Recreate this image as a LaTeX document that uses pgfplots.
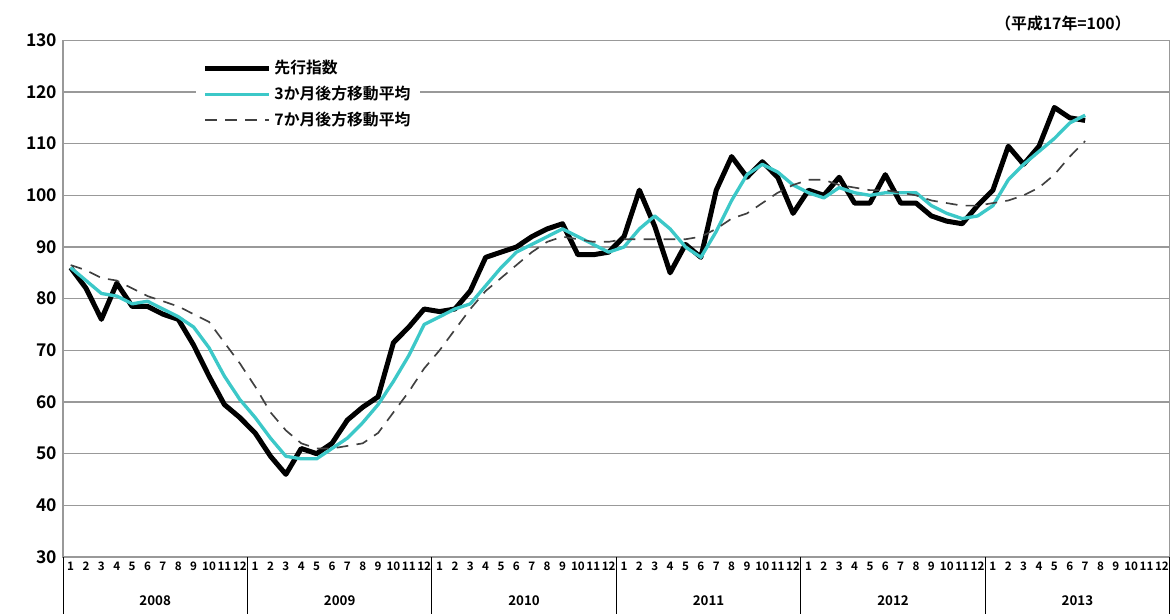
\documentclass[border=0pt]{standalone}
\usepackage{pgfplots}
\pgfplotsset{compat=1.18}
\usepackage{fontspec}
\setmainfont{Noto Sans CJK JP}[BoldFont={* Bold}]
\definecolor{cy}{RGB}{60,200,200}
\begin{document}
\begin{tikzpicture}[x=1pt,y=1pt]
\path[use as bounding box] (-37.8,-34.2) rectangle (667.8,334.2);
\begin{axis}[at={(0,0)},anchor=south west,scale only axis,width=664pt,height=310pt,
 xmin=0,xmax=72,ymin=30,ymax=130,ytick={30,40,...,130},
 /pgf/number format/assume math mode=true,
 ymajorgrids,grid style={gray!80,line width=0.8pt},axis line style={gray!80,line width=0.8pt},
 major tick length=0pt,
 xtick={0.5,1.5,...,71.5},
 xticklabel={\pgfmathtruncatemacro{\m}{mod(round(\tick-0.5),12)+1}\m},
 xticklabel style={font=\fontsize{7}{7}\selectfont\bfseries,inner sep=1pt,yshift=-2pt},
 yticklabel style={font=\fontsize{10.5}{11}\selectfont\bfseries},
 clip=false,
 legend style={at={(0.12,0.975)},anchor=north west,draw=none,fill=white,font=\fontsize{9.5}{11}\selectfont\bfseries,row sep=2pt,inner xsep=4pt},
 legend cell align=left,
 legend image code/.code={\draw[#1] (0pt,0pt) -- (38pt,0pt);},
]
\addplot[black,line width=3pt,line join=round] coordinates {
(0.5,86)(1.5,82)(2.5,76)(3.5,83)(4.5,78.5)(5.5,78.5)(6.5,77)(7.5,76)(8.5,71)(9.5,65)(10.5,59.5)(11.5,57)
(12.5,54)(13.5,49.5)(14.5,46)(15.5,51)(16.5,50)(17.5,52)(18.5,56.5)(19.5,59)(20.5,61)(21.5,71.5)(22.5,74.5)(23.5,78)
(24.5,77.5)(25.5,78)(26.5,81.5)(27.5,88)(28.5,89)(29.5,90)(30.5,92)(31.5,93.5)(32.5,94.5)(33.5,88.5)(34.5,88.5)(35.5,89)
(36.5,92)(37.5,101)(38.5,94)(39.5,85)(40.5,90.5)(41.5,88)(42.5,101)(43.5,107.5)(44.5,103.5)(45.5,106.5)(46.5,103.5)(47.5,96.5)
(48.5,101)(49.5,100)(50.5,103.5)(51.5,98.5)(52.5,98.5)(53.5,104)(54.5,98.5)(55.5,98.5)(56.5,96)(57.5,95)(58.5,94.5)(59.5,98)
(60.5,101)(61.5,109.5)(62.5,106)(63.5,109.5)(64.5,117)(65.5,115)(66.5,114.5)};
\addlegendentry{先行指数}
\addplot[cy,line width=2pt,line join=round] coordinates {
(0.5,86)(1.5,83.5)(2.5,81)(3.5,80.5)(4.5,79)(5.5,79.5)(6.5,78)(7.5,76.5)(8.5,74.5)(9.5,70.5)(10.5,65)(11.5,60.5)
(12.5,57)(13.5,53)(14.5,49.5)(15.5,49)(16.5,49)(17.5,51)(18.5,53)(19.5,56)(20.5,59.5)(21.5,64)(22.5,69)(23.5,75)
(24.5,76.5)(25.5,78)(26.5,79)(27.5,82.5)(28.5,86)(29.5,89)(30.5,90.5)(31.5,92)(32.5,93.5)(33.5,92)(34.5,90.5)(35.5,89)
(36.5,90)(37.5,93.5)(38.5,96)(39.5,93.5)(40.5,90)(41.5,88)(42.5,93)(43.5,99)(44.5,104)(45.5,106)(46.5,104.5)(47.5,102)
(48.5,100.5)(49.5,99.5)(50.5,101.5)(51.5,100.5)(52.5,100)(53.5,100.5)(54.5,100.5)(55.5,100.5)(56.5,98)(57.5,96.5)(58.5,95.5)(59.5,96)
(60.5,98)(61.5,103)(62.5,106)(63.5,108.5)(64.5,111)(65.5,114)(66.5,115.5)};
\addlegendentry{3か月後方移動平均}
\addplot[black!75,line width=1pt,dash pattern=on 7pt off 5pt] coordinates {
(0.5,86.5)(1.5,85.5)(2.5,84)(3.5,83.5)(4.5,82)(5.5,80.5)(6.5,79.5)(7.5,78.5)(8.5,77)(9.5,75.5)(10.5,71.5)(11.5,67.5)
(12.5,63)(13.5,58)(14.5,54.5)(15.5,52)(16.5,51)(17.5,51)(18.5,51.5)(19.5,52)(20.5,54)(21.5,58)(22.5,62)(23.5,66.5)
(24.5,70)(25.5,74)(26.5,78)(27.5,81.5)(28.5,84)(29.5,86.5)(30.5,89)(31.5,91)(32.5,92)(33.5,91.5)(34.5,91)(35.5,91)
(36.5,91.5)(37.5,91.5)(38.5,91.5)(39.5,91.5)(40.5,91.5)(41.5,92)(42.5,93.5)(43.5,95.5)(44.5,96.5)(45.5,98.5)(46.5,100.5)(47.5,102)
(48.5,103)(49.5,103)(50.5,102)(51.5,101.5)(52.5,101)(53.5,101)(54.5,100.5)(55.5,100)(56.5,99)(57.5,98.5)(58.5,98)(59.5,98)
(60.5,98.5)(61.5,99)(62.5,100)(63.5,101.5)(64.5,104)(65.5,107.5)(66.5,110.5)};
\addlegendentry{7か月後方移動平均}
\foreach \k in {0,12,...,72}{\edef\tmp{\noexpand\draw[black,line width=0.6pt] (axis cs:\k,30) -- ++(0,-34pt);}\tmp}
\foreach \k/\y in {6/2008,18/2009,30/2010,42/2011,54/2012,66/2013}{\edef\tmp{\noexpand\node[font=\noexpand\fontsize{8}{8}\noexpand\selectfont\noexpand\bfseries] at (axis cs:\k,30) [yshift=-26pt] {\y};}\tmp}
\node[anchor=south east,font=\fontsize{9.5}{10}\selectfont\bfseries] at (rel axis cs:0.97,1) [yshift=2pt] {（平成17年=100）};
\end{axis}
\end{tikzpicture}
\end{document}
